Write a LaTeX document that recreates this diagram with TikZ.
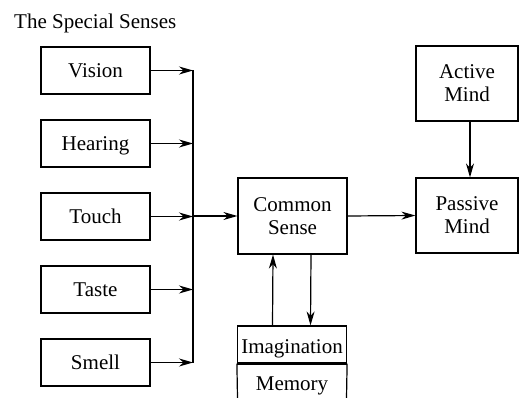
\documentclass[tikz,border=0pt]{standalone}
\usepackage{fontspec}
\setmainfont{Liberation Serif}
\newfontfamily\libserif{Liberation Serif}
\usetikzlibrary{arrows.meta}
\begin{document}
\begin{tikzpicture}[x=1pt,y=-1pt,
  font=\libserif\fontsize{21}{23}\selectfont,
  box/.style={draw, line width=1.2pt, minimum width=109pt, minimum height=47pt, inner sep=0pt, align=center},
  sense/.style={box, text height=14pt, text depth=0pt},
  mind/.style={box, minimum width=102pt, minimum height=75pt},
  arr/.style={line width=1.2pt, -{Stealth[length=14pt,width=8pt,inset=4.5pt]}},
  plain/.style={line width=1.2pt},
  txt/.style={inner sep=0pt}
  ]
\useasboundingbox (0,0) rectangle (519,398);
\node[txt, anchor=base west] (title) at (14,29) {The Special Senses};
\node[sense] (vision) at (95.5,70.5) {Vision};
\node[sense] (hearing) at (95.5,143.5) {Hearing};
\node[sense] (touch) at (95.5,216.5) {Touch};
\node[sense] (taste) at (95.5,289.5) {Taste};
\node[sense] (smell) at (95.5,362.5) {Smell};
\node[box, minimum height=76pt] (cs) at (292.5,216) {Common\\Sense};
\node[mind] (active) at (467,83.5) {Active\\Mind};
\node[mind] (passive) at (467,215.5) {Passive\\Mind};
\node[box, minimum height=37pt, text height=17pt, text depth=0pt] (imag) at (292,344.5) {Imagination};
\node[txt, anchor=base] (memory) at (292,390) {Memory};
\coordinate (bus) at (193,70.5);
\coordinate (mbl) at (237.5,398);
\coordinate (mbr) at (346.5,398);
% memory box sides and divider
\draw[plain] (imag.south west) -- (mbl);
\draw[plain] (imag.south east) -- (mbr);
\draw[line width=2.2pt] (imag.south west) -- (imag.south east);
% bus
\draw[plain] (vision.east -| bus) -- (smell.east -| bus);
\foreach \n in {vision,hearing,touch,taste,smell}
  \draw[arr] (\n.east) -- (\n.east -| bus);
\draw[arr] (cs.west -| bus) -- (cs.west);
\draw[arr] (cs.east) -- (passive.west);
\draw[arr] ([xshift=3pt]active.south) -- ([xshift=3pt]passive.north);
\draw[arr] ([xshift=-19.5pt]imag.north) -- ([xshift=-19.5pt]cs.south);
\draw[arr] ([xshift=18.5pt]cs.south) -- ([xshift=18.5pt]imag.north);
\end{tikzpicture}
\end{document}
